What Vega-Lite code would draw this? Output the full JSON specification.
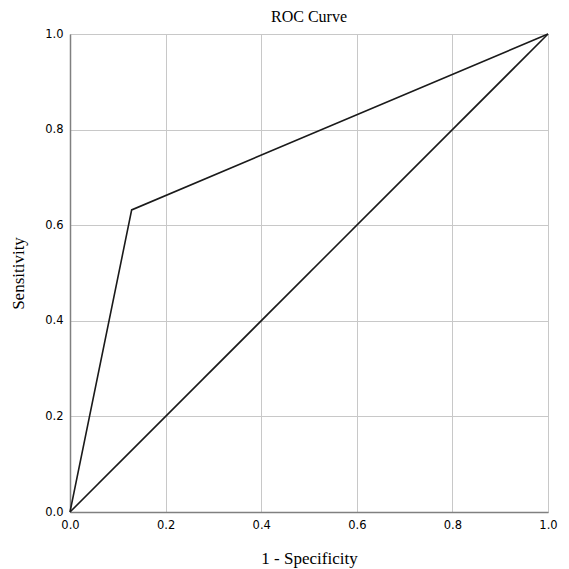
{
  "$schema": "https://vega.github.io/schema/vega-lite/v6.json",
  "autosize": "none",
  "width": 478,
  "height": 478,
  "padding": {"left": 70, "top": 34, "right": 21, "bottom": 57},
  "background": "white",
  "title": {"text": "ROC Curve", "font": "Liberation Serif", "fontSize": 16, "fontWeight": "normal", "color": "#000", "offset": 3},
  "config": {
    "view": {"stroke": "#c0c0c0", "strokeWidth": 1},
    "axis": {
      "gridColor": "#c8c8c8", "gridOpacity": 1, "gridWidth": 1,
      "domainColor": "#808080", "domainWidth": 1.5,
      "ticks": false, "labelFlush": false,
      "labelFont": "DejaVu Sans", "labelFontSize": 11.5, "labelColor": "#000",
      "titleFont": "Liberation Serif", "titleFontSize": 17, "titleFontWeight": "normal", "titleColor": "#000"
    }
  },
  "data": {"values": [
    {"s": "roc", "x": 0, "y": 0, "o": 0},
    {"s": "roc", "x": 0.129, "y": 0.632, "o": 1},
    {"s": "roc", "x": 1, "y": 1, "o": 2},
    {"s": "ref", "x": 0, "y": 0, "o": 0},
    {"s": "ref", "x": 1, "y": 1, "o": 1}
  ]},
  "mark": {"type": "line", "color": "#1a1a1a", "strokeWidth": 1.6},
  "encoding": {
    "x": {"field": "x", "type": "quantitative", "scale": {"domain": [0, 1], "nice": false},
      "axis": {"title": "1 - Specificity", "values": [0, 0.2, 0.4, 0.6, 0.8, 1], "format": ".1f", "labelPadding": 7, "titlePadding": 20}},
    "y": {"field": "y", "type": "quantitative", "scale": {"domain": [0, 1], "nice": false},
      "axis": {"title": "Sensitivity", "values": [0, 0.2, 0.4, 0.6, 0.8, 1], "format": ".1f", "labelPadding": 7, "titlePadding": 17, "labelBaseline": "middle"}},
    "detail": {"field": "s"},
    "order": {"field": "o"}
  }
}
